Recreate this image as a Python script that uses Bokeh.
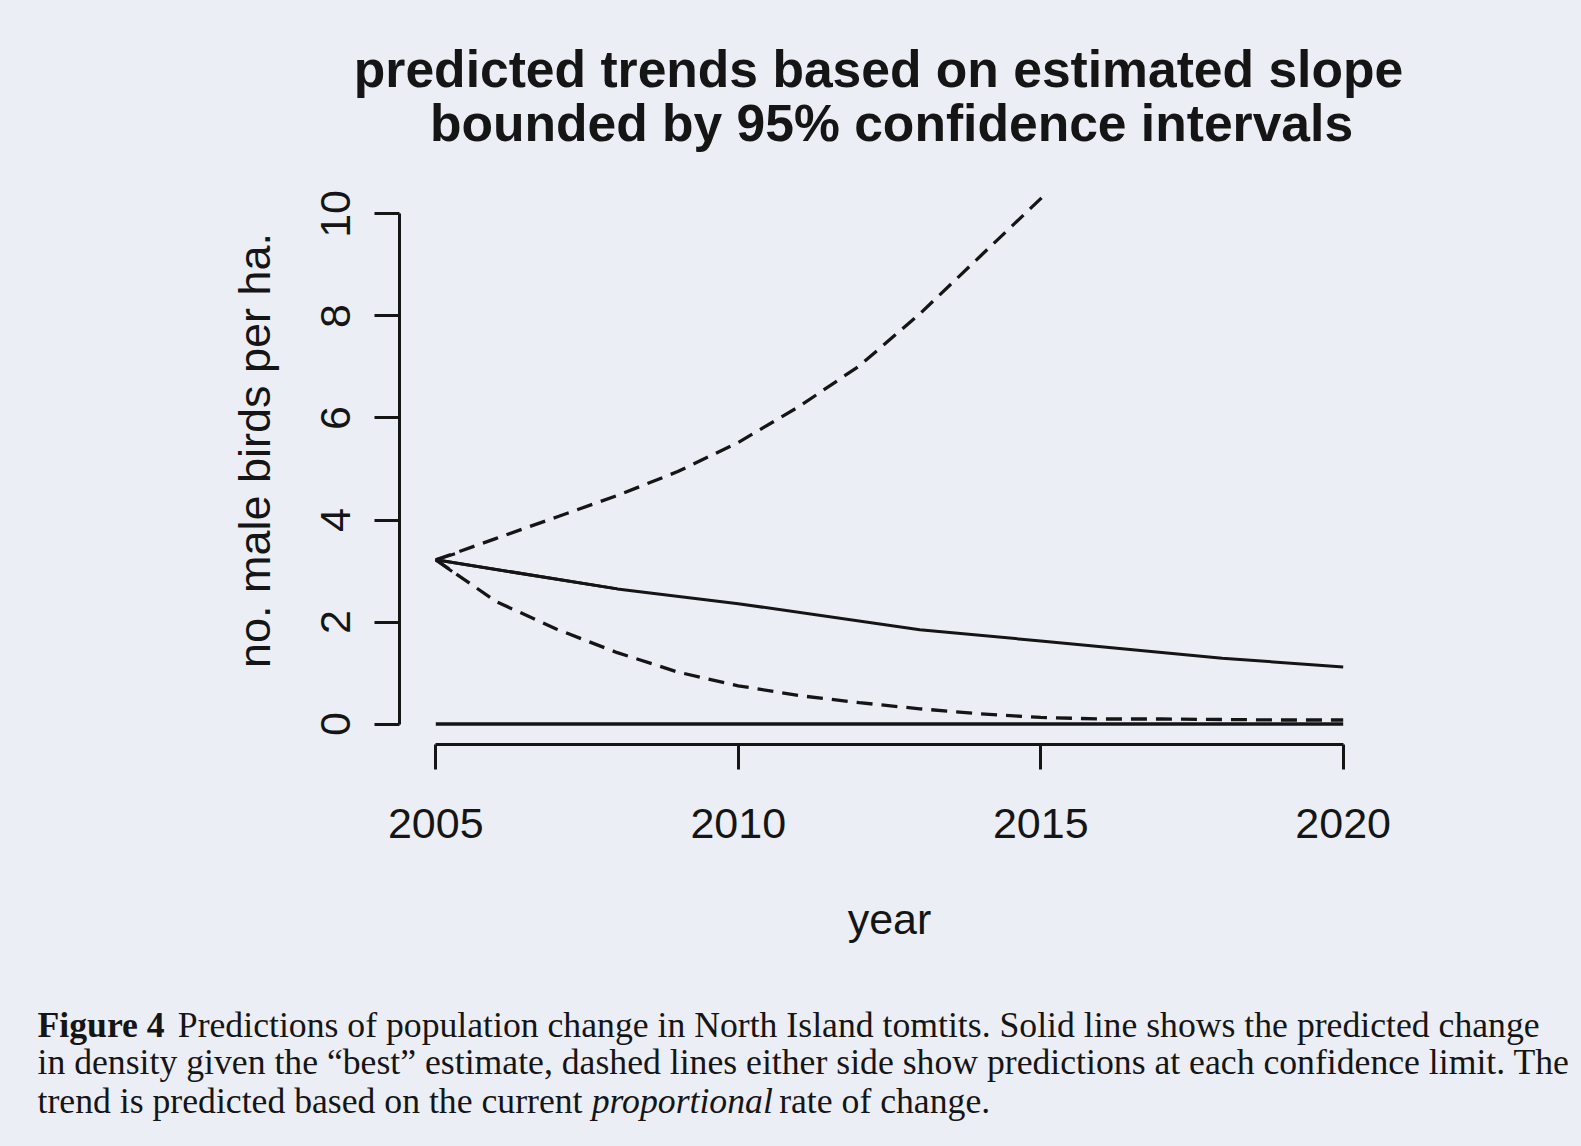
import math
from bokeh.plotting import figure
from bokeh.layouts import column, row
from bokeh.models import Range1d, FixedTicker, Arrow, OpenHead, Plot
from bokeh.core.properties import value
from bokeh.embed import file_html
from bokeh.resources import INLINE

# ---------------- data ----------------
best_years = [2005, 2008, 2010, 2013, 2015, 2018, 2020]
best_density = [3.22, 2.65, 2.36, 1.85, 1.63, 1.29, 1.12]

lower_years = [2005, 2006, 2007, 2008, 2009, 2010, 2011, 2012, 2013, 2014,
               2015, 2016, 2017, 2018, 2019, 2020]
lower_density = [3.22, 2.40, 1.86, 1.40, 1.02, 0.75, 0.56, 0.42, 0.30, 0.20,
                 0.13, 0.10, 0.10, 0.09, 0.08, 0.08]

upper_years = [2005, 2006, 2007, 2008, 2009, 2010, 2011, 2012, 2013, 2014,
               2015, 2016]
upper_density = [3.22, 3.64, 4.06, 4.48, 4.95, 5.52, 6.22, 7.02, 8.04, 9.17,
                 10.30, 11.60]

zero_years = [2005, 2020]
zero_density = [0.0, 0.0]

x_ticks = [2005, 2010, 2015, 2020]
y_ticks = [0, 2, 4, 6, 8, 10]

title_lines = ["predicted trends based on estimated slope",
               "bounded by 95% confidence intervals"]
x_title = "year"
y_title = "no. male birds per ha."

caption_bold = "Figure 4"
caption_l1 = "Predictions of population change in North Island tomtits.  Solid line shows the predicted change"
caption_l2 = "in density given the \u201cbest\u201d estimate, dashed lines either side show predictions at each confidence limit.  The"
caption_l3a = "trend is predicted based on the current"
caption_l3_italic = "proportional"
caption_l3b = "rate of change."

# ---------------- styling ----------------
PAPER = "#eceef6"
INK = "#151515"
SANS = "Liberation Sans"
SERIF = "Liberation Serif"
W = 1580
W_YT = 300                      # width of the y-title strip
H_TITLE, H_MAIN, H_CAP = 165, 825, 150
HAS_FRAME_ALIGN = "frame_align" in Plot.properties()


def text_panel(width, height):
    f = figure(width=width, height=height, output_backend="svg", toolbar_location=None,
               x_range=Range1d(0, width), y_range=Range1d(height, 0),
               min_border=0, min_border_left=0, min_border_right=0,
               min_border_top=0, min_border_bottom=0)
    f.axis.visible = False
    f.grid.visible = False
    f.outline_line_color = None
    f.background_fill_color = PAPER
    f.border_fill_color = PAPER
    if HAS_FRAME_ALIGN:
        f.frame_align = False
    return f


# ---------------- title panel ----------------
pt = text_panel(W, H_TITLE)
pt.text(x=[878, 891], y=[68, 122], text=title_lines,
        text_align="center", text_baseline="alphabetic",
        text_font=value(SANS), text_font_style=value("bold"),
        text_font_size=value("51.6px"), text_color=INK)

# ---------------- y-title strip ----------------
py = text_panel(W_YT, H_MAIN)
py.text(x=[254], y=[285], text=[y_title], angle=math.pi / 2,
        text_align="center", text_baseline="alphabetic",
        text_font=value(SANS), text_font_style=value("normal"),
        text_font_size=value("45px"), text_color=INK)

# ---------------- main plot ----------------
xpad = 0.04 * (x_ticks[-1] - x_ticks[0])
ypad = 0.04 * (y_ticks[-1] - y_ticks[0])

p = figure(width=W - W_YT, height=H_MAIN, output_backend="svg", toolbar_location=None,
           x_range=Range1d(x_ticks[0] - xpad, x_ticks[-1] + xpad),
           y_range=Range1d(y_ticks[0] - ypad, y_ticks[-1] + ypad),
           min_border_left=399 - W_YT, min_border_right=W - 1379,
           min_border_top=193 - H_TITLE, min_border_bottom=H_TITLE + H_MAIN - 744)
p.background_fill_color = PAPER
p.border_fill_color = PAPER
p.outline_line_color = None
p.grid.visible = False
if HAS_FRAME_ALIGN:
    p.frame_align = False

for ax, ticks in ((p.xaxis[0], x_ticks), (p.yaxis[0], y_ticks)):
    ax.ticker = FixedTicker(ticks=ticks)
    ax.bounds = (ticks[0], ticks[-1])
    ax.axis_line_width = 3
    ax.axis_line_color = INK
    ax.major_tick_line_width = 3
    ax.major_tick_line_color = INK
    ax.major_tick_out = 25
    ax.major_tick_in = 0
    ax.minor_tick_line_color = None
    ax.major_label_text_font = SANS
    ax.major_label_text_font_size = "43px"
    ax.major_label_text_color = INK
    ax.axis_label_text_font = SANS
    ax.axis_label_text_font_style = "normal"
    ax.axis_label_text_color = INK

p.xaxis[0].axis_label = x_title
p.xaxis[0].axis_label_text_font_size = "43px"
p.xaxis[0].major_label_standoff = 39
p.xaxis[0].axis_label_standoff = 54

p.yaxis[0].major_label_orientation = "vertical"
p.yaxis[0].major_label_standoff = 24

p.line(zero_years, zero_density, line_width=3.5, line_color=INK)
p.line(upper_years, upper_density, line_width=3.3, line_color=INK, line_dash="16 9")
p.line(lower_years, lower_density, line_width=3.3, line_color=INK, line_dash="16 9")
p.line(best_years, best_density, line_width=3, line_color=INK)

p.add_layout(Arrow(end=OpenHead(size=18, line_width=3, line_color=INK),
                   x_start=best_years[1], y_start=best_density[1],
                   x_end=best_years[0], y_end=best_density[0],
                   line_width=3, line_color=INK))

# ---------------- caption panel ----------------
fs = 35.7
x0 = 37
pc = text_panel(W, H_CAP)
cap = dict(text_baseline="alphabetic", text_font=value(SERIF),
           text_font_size=value(f"{fs}px"), text_color=INK)
x_italic = x0 + 15.524 * fs
pc.text(x=[x0], y=[34], text=[caption_bold], text_font_style=value("bold"), **cap)
pc.text(x=[x0 + 3.93 * fs, x0, x0], y=[34, 71, 110],
        text=[caption_l1, caption_l2, caption_l3a],
        text_font_style=value("normal"), **cap)
pc.text(x=[x_italic], y=[110], text=[caption_l3_italic],
        text_font_style=value("italic"), **cap)
pc.text(x=[x_italic + (5.0 + 0.25) * fs], y=[110], text=[caption_l3b],
        text_font_style=value("normal"), **cap)

layout = column(pt, row(py, p, spacing=0), pc, spacing=0)

html = file_html(layout, INLINE)
html = html.replace("<head>", "<head><style>html,body{background:%s;}</style>" % PAPER, 1)
open("out.html", "w").write(html)
